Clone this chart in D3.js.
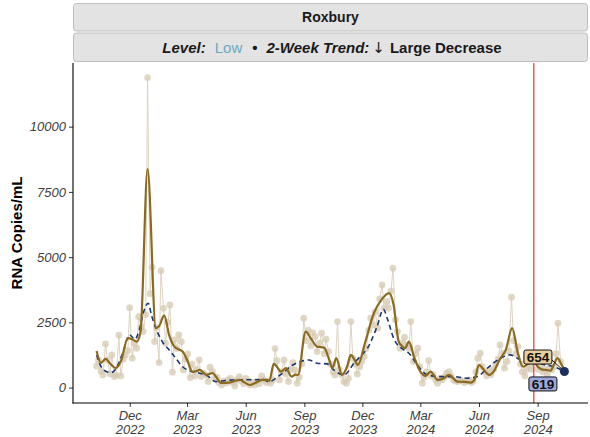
<!DOCTYPE html>
<html><head><meta charset="utf-8">
<script src="https://cdn.jsdelivr.net/npm/d3@7"></script>
<style>
html,body{margin:0;padding:0;background:#fff;}
svg{display:block;font-family:"Liberation Sans",Arial,Helvetica,sans-serif;}
</style></head>
<body><svg id="chart" width="590" height="437"></svg>
<script>
// ---------- data ----------
const sampleDates = [
"2022-10-10","2022-10-13","2022-10-17","2022-10-20","2022-10-24","2022-10-27","2022-10-31","2022-11-03",
"2022-11-07","2022-11-10","2022-11-14","2022-11-17","2022-11-21","2022-11-24","2022-11-28","2022-12-01",
"2022-12-05","2022-12-08","2022-12-12","2022-12-15","2022-12-19","2022-12-22","2022-12-26","2022-12-29",
"2023-01-02","2023-01-05","2023-01-09","2023-01-12","2023-01-16","2023-01-19","2023-01-23","2023-01-26","2023-01-30","2023-02-02",
"2023-02-06","2023-02-09","2023-02-13","2023-02-16","2023-02-20","2023-02-23","2023-02-27","2023-03-02",
"2023-03-06","2023-03-09","2023-03-13","2023-03-16","2023-03-20","2023-03-23","2023-03-27","2023-03-30",
"2023-04-03","2023-04-06","2023-04-10","2023-04-13","2023-04-17","2023-04-20","2023-04-24","2023-04-27",
"2023-05-01","2023-05-04","2023-05-08","2023-05-11","2023-05-15","2023-05-18","2023-05-22","2023-05-25","2023-05-29","2023-06-01",
"2023-06-05","2023-06-08","2023-06-12","2023-06-15","2023-06-19","2023-06-22","2023-06-26","2023-06-29",
"2023-07-03","2023-07-06","2023-07-10","2023-07-13","2023-07-17","2023-07-20","2023-07-24","2023-07-27","2023-07-31","2023-08-03",
"2023-08-07","2023-08-10","2023-08-14","2023-08-17","2023-08-21","2023-08-24","2023-08-28","2023-08-31",
"2023-09-04","2023-09-07","2023-09-11","2023-09-14","2023-09-18","2023-09-21","2023-09-25","2023-09-28",
"2023-10-02","2023-10-05","2023-10-09","2023-10-12","2023-10-16","2023-10-19","2023-10-23","2023-10-26","2023-10-30","2023-11-02",
"2023-11-06","2023-11-09","2023-11-13","2023-11-16","2023-11-20","2023-11-23","2023-11-27","2023-11-30",
"2023-12-04","2023-12-07","2023-12-11","2023-12-14","2023-12-18","2023-12-21","2023-12-25","2023-12-28",
"2024-01-01","2024-01-04","2024-01-08","2024-01-11","2024-01-15","2024-01-18","2024-01-22","2024-01-25","2024-01-29","2024-02-01",
"2024-02-05","2024-02-08","2024-02-12","2024-02-15","2024-02-19","2024-02-22","2024-02-26","2024-02-29",
"2024-03-04","2024-03-07","2024-03-11","2024-03-14","2024-03-18","2024-03-21","2024-03-25","2024-03-28",
"2024-04-01","2024-04-04","2024-04-08","2024-04-11","2024-04-15","2024-04-18","2024-04-22","2024-04-25","2024-04-29","2024-05-02",
"2024-05-06","2024-05-09","2024-05-13","2024-05-16","2024-05-20","2024-05-23","2024-05-27","2024-05-30",
"2024-06-03","2024-06-06","2024-06-10","2024-06-13","2024-06-17","2024-06-20","2024-06-24","2024-06-27",
"2024-07-01","2024-07-04","2024-07-08","2024-07-11","2024-07-15","2024-07-18","2024-07-22","2024-07-25","2024-07-29","2024-08-01",
"2024-08-05","2024-08-08","2024-08-12","2024-08-15","2024-08-19","2024-08-22","2024-08-26","2024-08-29",
"2024-09-02","2024-09-05","2024-09-09","2024-09-12","2024-09-16","2024-09-19","2024-09-23","2024-09-26","2024-09-30","2024-10-03",
"2024-10-07","2024-10-10"
];
const sampleValues = [
830,1050, 620,487, 1674,1061, 525,1253, 421,470, 2007,448, 1100,1250, 1418,3065, 1126,1700, 1509,2720,
2337,2150, 2800,11880, 3600,4610, 1763,2300, 958,4483, 3040,1700, 2500,3170, 590,1830, 1500,2020, 1760,678,
1100,1291, 383,900, 448,700, 1061,421, 550,480, 230,782, 613,350, 400,200, 103,250, 180,295,
350,200, 65,300, 421,250, 150,350, 268,100, 200,103, 250,150, 448,300, 200,250, 168,300,
1494,1035, 295,600, 1061,525, 230,700, 958,678, 168,400, 900,2659, 1800,2200, 1600,2108, 1955,1380,
1700,2084, 1300,1854, 1380,900, 600,487, 2529,700, 487,230, 168,350, 2529,1126, 900,525, 800,1000,
1188,1500, 2200,2659, 2400,2900, 2276,3400, 3935,3042, 3300,3042, 3700,4575, 2600,2146, 1509,1700, 1931,1600,
1509,2529, 996,1300, 1509,800, 168,400, 600,1035, 448,500, 300,168, 350,300, 400,552, 613,450,
300,250, 230,300, 250,200, 230,300, 192,250, 600,1126, 1318,800, 613,450, 678,500, 700,900,
1100,1636, 1318,743, 1000,1400, 3463,1800, 1300,1571, 900,600, 448,700, 900,700, 1000,1088, 700,800,
600,700, 500,750, 678,800, 1300,2467, 996,678
];
const trendDates = [
"2022-10-10","2022-10-17","2022-10-24","2022-11-01","2022-11-09","2022-11-17","2022-11-28","2022-12-05","2022-12-12","2022-12-18",
"2022-12-29","2023-01-11","2023-01-16","2023-01-24","2023-02-01","2023-02-09","2023-02-17","2023-02-22","2023-03-02","2023-03-09",
"2023-03-14","2023-03-21","2023-03-31","2023-04-10","2023-04-16","2023-04-23","2023-05-06","2023-05-14","2023-05-23","2023-05-30",
"2023-06-07","2023-06-16","2023-06-27","2023-07-04","2023-07-08","2023-07-15","2023-07-20","2023-07-26","2023-08-03","2023-08-12",
"2023-08-18","2023-08-22","2023-09-03","2023-09-11","2023-09-21","2023-10-02","2023-10-10","2023-10-15","2023-10-21","2023-10-30",
"2023-11-07","2023-11-13","2023-11-18","2023-11-24","2023-12-05","2023-12-19","2024-01-01","2024-01-12","2024-01-19","2024-01-27",
"2024-02-01","2024-02-06","2024-02-12","2024-02-20","2024-03-01","2024-03-09","2024-03-17","2024-03-28","2024-04-06","2024-04-15",
"2024-04-28","2024-05-09","2024-05-19","2024-05-25","2024-06-01","2024-06-08","2024-06-17","2024-06-25","2024-07-03","2024-07-13",
"2024-07-23","2024-08-01","2024-08-09","2024-08-16","2024-08-26","2024-09-01","2024-09-07","2024-09-14","2024-09-21","2024-09-26",
"2024-10-02","2024-10-08","2024-10-13"
];
const trendValues = [
1406,950,1100,900,750,1000,1900,1850,1760,2150,
8370,2290,2350,2770,2000,1570,1450,1380,1000,610,
620,680,490,560,400,180,190,250,300,200,
100,180,300,300,260,908,800,613,743,421,
500,487,2146,1893,1571,1533,1061,743,1126,487,
800,1253,1100,870,1700,2851,3400,3617,3169,1763,
1600,1509,1763,1188,613,448,613,295,350,487,
230,220,192,300,870,700,487,650,1061,1444,
2276,1318,800,900,1000,805,700,678,650,850,
1126,900,654
];
const baselineDates = [
"2022-10-10","2022-10-17","2022-10-25","2022-11-02","2022-11-08","2022-11-19","2022-12-01","2022-12-09","2022-12-16","2022-12-23",
"2022-12-30","2023-01-04","2023-01-11","2023-01-21","2023-02-01","2023-02-12","2023-02-22","2023-03-10","2023-03-21","2023-04-02",
"2023-04-15","2023-04-30","2023-05-17","2023-06-01","2023-06-17","2023-06-27","2023-07-08","2023-07-23","2023-07-29","2023-08-10",
"2023-08-19","2023-08-31","2023-09-08","2023-09-21","2023-10-07","2023-10-17","2023-11-02","2023-11-18","2023-11-28","2023-12-09",
"2023-12-24","2024-01-03","2024-01-09","2024-01-19","2024-02-04","2024-02-12","2024-02-25","2024-03-12","2024-04-02","2024-04-23",
"2024-05-13","2024-05-29","2024-06-17","2024-07-05","2024-07-20","2024-07-31","2024-08-10","2024-08-26","2024-09-13","2024-09-26",
"2024-10-13"
];
const baselineValues = [
1250,805,620,575,678,1253,2019,1850,2211,2912,
3234,2785,2276,1762,1440,1100,800,610,550,450,
230,270,300,300,300,320,230,448,550,805,
935,1035,1060,935,908,678,487,935,1200,1509,
2337,3004,2659,1893,1444,1318,870,487,421,421,
360,421,805,1126,1253,1126,996,996,870,805,
619
];
const yTicks = [0, 2500, 5000, 7500, 10000];
const xTickDates = ["2022-12-01","2023-03-01","2023-06-01","2023-09-01","2023-12-01","2024-03-01","2024-06-01","2024-09-01"];
const xTickMonths = ["Dec","Mar","Jun","Sep","Dec","Mar","Jun","Sep"];
const xTickYears = ["2022","2023","2023","2023","2023","2024","2024","2024"];
const xDomain = ["2022-09-03","2024-11-19"];
const yDomain = [-590, 12440];
const markerDate = "2024-08-26";
const locationName = "Roxbury";
const levelText = "Low";
const trendText = "Large Decrease";
const trendLabel = 654, baselineLabel = 619;

// ---------- chart ----------
const parse = d3.utcParse("%Y-%m-%d");
const svg = d3.select("#chart");
const L = 73, R = 588, T = 63, B = 403;

const x = d3.scaleUtc().domain(xDomain.map(parse)).range([L, R]);
const y = d3.scaleLinear().domain(yDomain).range([B, T]);

const samples = sampleDates.map((d,i)=>({d:parse(d), v:sampleValues[i]}));
const trend = trendDates.map((d,i)=>({d:parse(d), v:trendValues[i]}));
const base = baselineDates.map((d,i)=>({d:parse(d), v:baselineValues[i]}));

// strips
const strips = svg.append("g");
strips.append("rect").attr("x",L+0.5).attr("y",3.5).attr("width",R-L-1).attr("height",27.5)
  .attr("rx",3).attr("fill","#e3e3e3").attr("stroke","#bdbdbd").attr("stroke-width",1);
strips.append("rect").attr("x",L+0.5).attr("y",33).attr("width",R-L-1).attr("height",28.5)
  .attr("rx",3).attr("fill","#e3e3e3").attr("stroke","#bdbdbd").attr("stroke-width",1);
strips.append("text").attr("x",(L+R)/2).attr("y",22).attr("text-anchor","middle")
  .attr("font-size",14).attr("font-weight","bold").attr("fill","#1a1a1a").text(locationName);
const t2 = strips.append("text").attr("x",(L+R)/2 + 1.5).attr("y",52.5).attr("text-anchor","middle")
  .attr("font-size",15).attr("font-weight","bold").attr("fill","#1a1a1a");
t2.append("tspan").attr("font-style","italic").text("Level:");
t2.append("tspan").attr("dx",9).attr("fill","#6aaabf").attr("font-weight","normal").text(levelText);
t2.append("tspan").attr("dx",10).text("\u2022");
t2.append("tspan").attr("dx",9).attr("font-style","italic").text("2-Week Trend:");
t2.append("tspan").attr("dx",3).attr("font-family","DejaVu Sans").attr("font-weight","normal").text("\u2193");
t2.append("tspan").attr("dx",5).text(trendText);

// raw sample line + points
const rawLine = d3.line().x(d=>x(d.d)).y(d=>y(d.v));
svg.append("path").datum(samples).attr("d",rawLine).attr("fill","none")
  .attr("stroke","#ddd3c1").attr("stroke-width",1);
svg.append("g").selectAll("circle").data(samples).join("circle")
  .attr("cx",d=>x(d.d)).attr("cy",d=>y(d.v)).attr("r",3.4)
  .attr("fill","#d6cab2").attr("fill-opacity",0.75);

// dashed baseline
svg.append("path").datum(base)
  .attr("d",d3.line().x(d=>x(d.d)).y(d=>y(d.v)).curve(d3.curveMonotoneX))
  .attr("fill","none").attr("stroke","#1b3770").attr("stroke-width",1.6).attr("stroke-dasharray","5,3.5");

// trend line
svg.append("path").datum(trend)
  .attr("d",d3.line().x(d=>x(d.d)).y(d=>y(d.v)).curve(d3.curveMonotoneX))
  .attr("fill","none").attr("stroke","#8b6a1f").attr("stroke-width",2.2);

// red marker line
svg.append("line").attr("x1",x(parse(markerDate))).attr("x2",x(parse(markerDate)))
  .attr("y1",T).attr("y2",B).attr("stroke","#ff1a1a").attr("stroke-width",1.1);

// axes
const yAxis = d3.axisLeft(y).tickValues(yTicks).tickSize(4).tickPadding(3).tickFormat(d3.format("d"));
const gy = svg.append("g").attr("transform",`translate(${L},0)`).call(yAxis);
gy.select(".domain").remove();
gy.selectAll(".tick line").attr("stroke","#333");
gy.selectAll(".tick text").attr("font-size",13).attr("font-style","italic").attr("fill","#404040")
  .attr("font-family","Liberation Sans, Arial, sans-serif");

const xAxis = d3.axisBottom(x).tickValues(xTickDates.map(parse)).tickSize(4).tickFormat("");
const gx = svg.append("g").attr("transform",`translate(0,${B})`).call(xAxis);
gx.select(".domain").remove();
gx.selectAll(".tick line").attr("stroke","#333");
gx.selectAll(".tick").append("text").attr("y",16.5).attr("text-anchor","middle")
  .attr("font-size",13).attr("font-style","italic").attr("fill","#404040")
  .text((d,i)=>xTickMonths[i]);
gx.selectAll(".tick").append("text").attr("y",31).attr("text-anchor","middle")
  .attr("font-size",13).attr("font-style","italic").attr("fill","#404040")
  .text((d,i)=>xTickYears[i]);

svg.append("line").attr("x1",L).attr("x2",L).attr("y1",T).attr("y2",B+0.5).attr("stroke","#000").attr("stroke-width",1.1);
svg.append("line").attr("x1",L-0.5).attr("x2",R).attr("y1",B).attr("y2",B).attr("stroke","#000").attr("stroke-width",1.1);

svg.append("text").attr("transform",`translate(21.5,${(T+B)/2}) rotate(-90)`).attr("text-anchor","middle")
  .attr("font-size",15).attr("font-weight","bold").attr("fill","#000").text("RNA Copies/mL");

// end labels
const lastT = trend[trend.length-1], lastB = base[base.length-1];
const ex = x(lastB.d), ey = y(lastB.v);
const lab1 = {cx: x(lastT.d)-26.5, cy: y(lastT.v)-13.5};
const lab2 = {cx: ex-21.5, cy: ey+12.5};
svg.append("line").attr("x1",lab1.cx+13).attr("y1",lab1.cy+2).attr("x2",ex).attr("y2",ey)
  .attr("stroke","#111").attr("stroke-width",1);
svg.append("circle").attr("cx",ex).attr("cy",ey).attr("r",4.5).attr("fill","#1c2f5c");
function label(c, txt, fill){
  const g = svg.append("g");
  g.append("rect").attr("x",c.cx-14).attr("y",c.cy-7).attr("width",28).attr("height",14)
    .attr("rx",2).attr("fill",fill).attr("stroke","#111").attr("stroke-width",1);
  g.append("text").attr("x",c.cx).attr("y",c.cy+4.8).attr("text-anchor","middle")
    .attr("font-size",13.5).attr("font-weight","bold").attr("fill","#111").text(txt);
}
label(lab1, String(trendLabel), "#e8cf9d");
label(lab2, String(baselineLabel), "#9ea8dc");
</script></body></html>
